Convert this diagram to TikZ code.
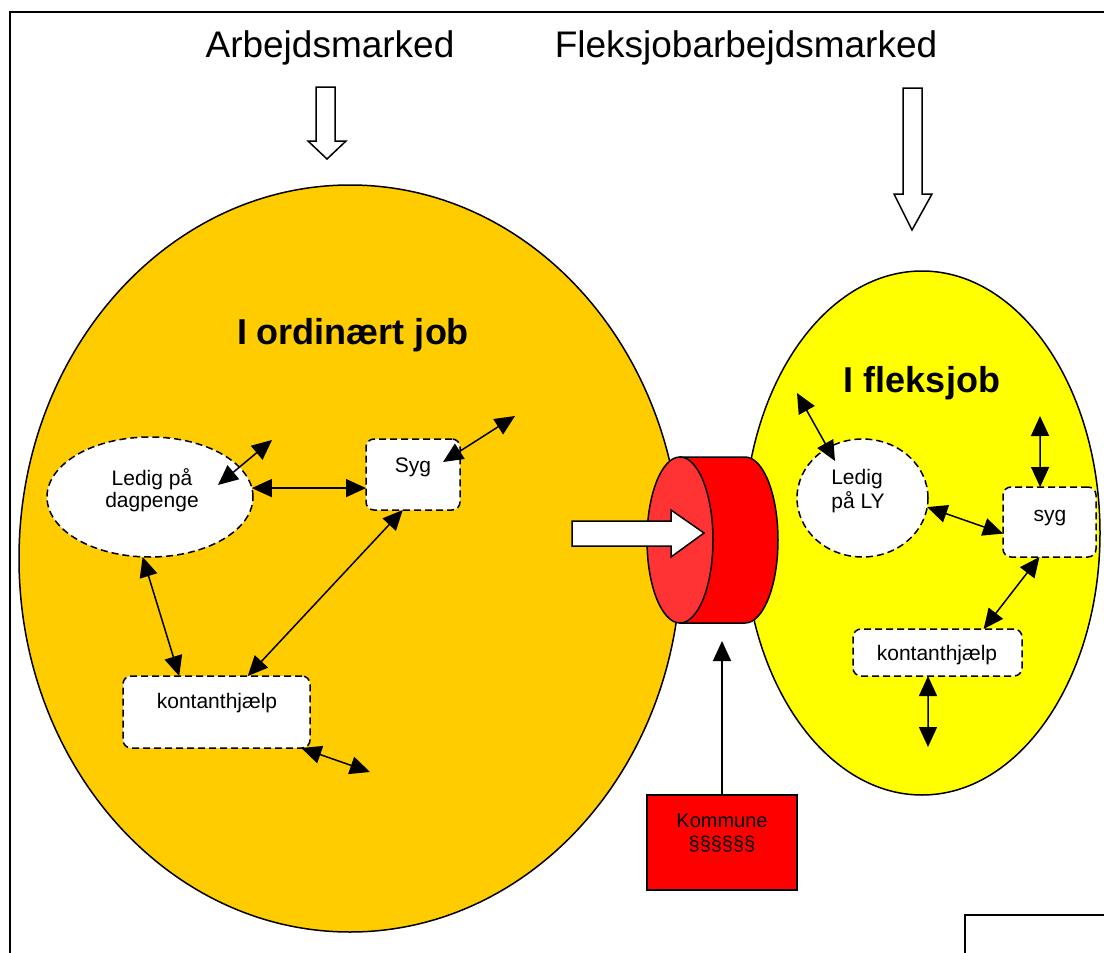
\documentclass[tikz,border=0pt]{standalone}
\usepackage{fontspec}
\setmainfont{Liberation Sans}
\usetikzlibrary{arrows.meta,shapes.geometric}
\definecolor{orng}{HTML}{FFCC00}
\definecolor{ylw}{HTML}{FFFF00}
\definecolor{cylside}{HTML}{FF0000}
\definecolor{cylfront}{HTML}{FF3333}
\begin{document}
\begin{tikzpicture}[x=1pt,y=-1pt,
  dbl/.style={line width=1.5pt,{Triangle[length=20pt,width=18pt]}-{Triangle[length=20pt,width=18pt]}},
  sgl/.style={line width=1.5pt,-{Triangle[length=20pt,width=18pt]}},
  dashbox/.style={draw,line width=1.5pt,dash pattern=on 7pt off 4pt,fill=white,rounded corners=8pt,inner sep=0pt,outer sep=0pt},
  dashell/.style={draw,ellipse,line width=1.5pt,dash pattern=on 7pt off 4pt,fill=white,inner sep=0pt,outer sep=0pt},
  blockarrow/.style={draw,fill=white,line width=1.5pt,line join=miter},
  small/.style={font=\fontsize{21}{25}\selectfont,anchor=base,inner sep=0pt},
  big/.style={font=\fontsize{37}{44}\selectfont,anchor=base,inner sep=0pt},
  bigbold/.style={font=\fontsize{36}{43}\selectfont\bfseries,anchor=base,inner sep=0pt}
]
\useasboundingbox (0,0) rectangle (1104,953);
% frame
\draw[line width=1.5pt] (10,953) -- (10,12) -- (1104,12);
\draw[line width=1.5pt] (965,953) -- (965,915) -- (1104,915);
% titles
\node[big] (t1) at (330,57) {Arbejdsmarked};
\node[big] (t2) at (746,57) {Fleksjobarbejdsmarked};
% down block arrows
\draw[blockarrow] (316,87) -- (335,87) -- (335,141) -- (346,141) -- (327,159) -- (308,141) -- (316,141) -- cycle;
\draw[blockarrow] (903,88) -- (922,88) -- (922,194) -- (932,194) -- (912,230) -- (894,194) -- (903,194) -- cycle;
% big ellipses
\draw[fill=orng,line width=1.5pt] (350,558.5) ellipse[x radius=331,y radius=373.5];
\draw[fill=ylw,line width=1.5pt] (922,533) ellipse[x radius=178,y radius=262];
\node[bigbold] (h1) at (353,344) {I ordinært job};
\node[bigbold] (h2) at (922,392) {I fleksjob};
% cylinder
\draw[fill=cylside,line width=1.5pt] (680,457) -- (745,457) arc[start angle=-90,end angle=90,x radius=33,y radius=83] -- (680,623) -- cycle;
\draw[fill=cylfront,line width=1.5pt] (680,540) ellipse[x radius=33,y radius=83];
\coordinate (cylb) at (722,641);
% right block arrow
\draw[blockarrow] (572,521) -- (671,521) -- (671,510) -- (704,533) -- (671,557) -- (671,546) -- (572,546) -- cycle;
% left nodes
\node[dashell,minimum width=206pt,minimum height=120pt] (led) at (150,497) {};
\node[small] (ledt1) at (152,485) {Ledig på};
\node[small] (ledt2) at (152,507) {dagpenge};
\node[dashbox,minimum width=94pt,minimum height=71pt] (syg) at (413,474.5) {};
\node[small] (sygt) at (413,472) {Syg};
\node[dashbox,minimum width=187pt,minimum height=72pt] (kont) at (216.5,712) {};
\node[small] (kontt) at (217,708) {kontanthjælp};
% right nodes
\node[dashell,minimum width=131pt,minimum height=118pt] (ly) at (862.5,498) {};
\node[small] (lyt1) at (857,484) {Ledig};
\node[small] (lyt2) at (858,508) {på LY};
\node[dashbox,minimum width=93pt,minimum height=70pt] (syg2) at (1049.5,522) {};
\node[small] (syg2t) at (1050,521) {syg};
\node[dashbox,minimum width=169pt,minimum height=47pt] (kont2) at (937.5,652.5) {};
\node[small] (kont2t) at (937,660) {kontanthjælp};
% kommune
\node[draw,fill=cylside,line width=1.5pt,minimum width=150pt,minimum height=95pt,inner sep=0pt,outer sep=0pt] (kom) at (722,842.5) {};
\node[font=\fontsize{20}{23}\selectfont,align=center,inner sep=0pt] (komt) at (722,833) {Kommune\\§§§§§§};
\draw[sgl] (kom.north) -- (cylb);
% free ends
\coordinate (fa1) at (218,485);
\coordinate (fa2) at (272,440);
\coordinate (fb1) at (443,462);
\coordinate (fb2) at (515,416);
\coordinate (fc) at (370,772);
\coordinate (fd1) at (797,393);
\coordinate (fd2) at (835,461);
\coordinate (fe) at (1040,416);
\coordinate (ff) at (928,747);
% connectors
\draw[dbl] (led.5) -- (led.5 -| syg.west);
\draw[dbl] (fa1) -- (fa2);
\draw[dbl] (fb1) -- (fb2);
\draw[dbl] (led.263) -- (kont.136);
\draw[dbl] (syg.254) -- (kont.49);
\draw[dbl] (kont.-23) -- (fc);
\draw[dbl] (fd2) -- (fd1);
\draw[dbl] (syg2.105) -- (fe);
\draw[dbl] (ly.-8) -- (syg2.194);
\draw[dbl] (syg2.254) -- (kont2.27);
\draw[dbl] (kont2.248) -- (ff);
\end{tikzpicture}
\end{document}
